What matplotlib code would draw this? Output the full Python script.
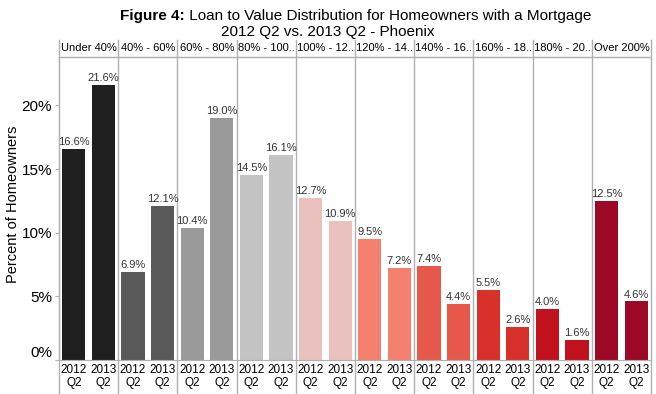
import matplotlib
matplotlib.use("Agg")
import matplotlib.pyplot as plt
import numpy as np

plt.rcParams['font.family'] = ['Liberation Sans', 'DejaVu Sans']

categories = ["Under 40%", "40% - 60%", "60% - 80%", "80% - 100..", "100% - 12..",
              "120% - 14..", "140% - 16..", "160% - 18..", "180% - 20..", "Over 200%"]
periods = ["2012\nQ2", "2013\nQ2"]
vals_2012 = [16.6, 6.9, 10.4, 14.5, 12.7, 9.5, 7.4, 5.5, 4.0, 12.5]
vals_2013 = [21.6, 12.1, 19.0, 16.1, 10.9, 7.2, 4.4, 2.6, 1.6, 4.6]
colors = ["#1f1f1f", "#595959", "#9a9a9a", "#c4c4c4", "#eac1bd",
          "#f4806f", "#e5584a", "#d9302b", "#c0111c", "#9c0826"]
yticks = [0, 5, 10, 15, 20]

W, H = 656, 394
fig = plt.figure(figsize=(W/100, H/100), dpi=100)
top_px, bot_px = 57, 360
ax_l, ax_r, ax_b, ax_t = 59/W, 651/W, (H-bot_px)/H, (H-top_px)/H
ax = fig.add_axes([ax_l, ax_b, ax_r-ax_l, ax_t-ax_b])
ph = bot_px - top_px

n = len(categories)
grid = "#b0b0b0"
xs, hs, cs = [], [], []
for i in range(n):
    for j, v in enumerate((vals_2012[i], vals_2013[i])):
        xs.append(2*i + j)
        hs.append(v)
        cs.append(colors[i])
ax.bar(xs, hs, width=0.78, color=cs)
for x, h in zip(xs, hs):
    ax.text(x, h + 0.15, f"{h:.1f}%", ha='center', va='bottom', fontsize=8, color='#333333')

ax.set_xlim(-0.5, 2*n - 0.5)
ax.set_ylim(0, 23.8)
ax.set_yticks(yticks)
ax.set_yticklabels([f"{t}%" for t in yticks], fontsize=11)
for lbl in ax.get_yticklabels():
    if lbl.get_text() == "0%":
        lbl.set_va('bottom')
ax.tick_params(axis='y', length=3, color=grid, pad=2)
ax.set_ylabel("Percent of Homeowners", fontsize=10.5)
ax.yaxis.set_label_coords((20 - 59) / 592, 0.513)
ax.set_xticks(xs)
ax.set_xticklabels([periods[k % 2] for k in range(len(xs))], fontsize=8.5, linespacing=1.05)
ax.tick_params(axis='x', length=0, pad=3)
for s in ['top', 'right']:
    ax.spines[s].set_visible(False)
ax.spines['left'].set_color(grid)
ax.spines['bottom'].set_color(grid)

trans = ax.get_xaxis_transform()
hdr_top = 1 + 17/ph
for i in range(n + 1):
    xpos = 2*i - 0.5
    ax.plot([xpos, xpos], [-34/ph, hdr_top], color=grid, lw=1, clip_on=False, transform=trans)
ax.plot([-0.5, 2*n-0.5], [1, 1], color=grid, lw=1, clip_on=False, transform=trans)
for i, c in enumerate(categories):
    ax.text(2*i + 0.5, 1 + 9/ph, c, transform=trans, ha='center', va='center', fontsize=8)

# title
fig.canvas.draw()
r = fig.canvas.get_renderer()
t1 = fig.text(0, 1 - 16/H, "Figure 4:", fontsize=11, fontweight='bold', va='center')
t2 = fig.text(0, 1 - 16/H, " Loan to Value Distribution for Homeowners with a Mortgage", fontsize=11, va='center')
w1 = t1.get_window_extent(r).width
w2 = t2.get_window_extent(r).width
x0 = (356 - (w1 + w2)/2) / W
t1.set_x(x0)
t2.set_x(x0 + w1/W)
fig.text(328/W, 1 - 32/H, "2012 Q2 vs. 2013 Q2 - Phoenix", fontsize=11, ha='center', va='center')

fig.savefig("out.png", dpi=100)
